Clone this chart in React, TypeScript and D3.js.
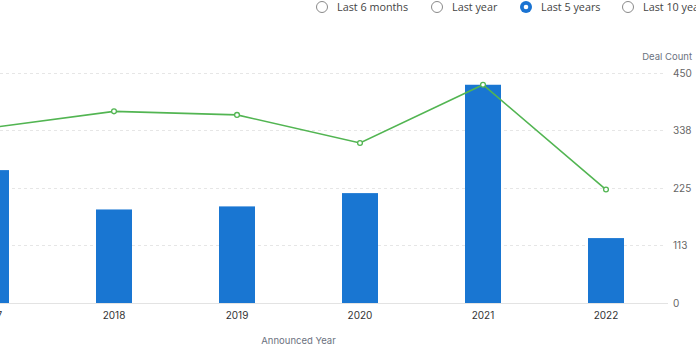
import React, { useRef, useEffect } from "react";
import * as d3 from "d3";

const years = ["2017", "2018", "2019", "2020", "2021", "2022"];
const barValues = [260, 183, 189, 215, 427, 127];
const dealCounts = [343, 375, 368, 313, 427, 222];
const tickValues = [0, 113, 225, 338, 450];
const periods = ["Last 6 months", "Last year", "Last 5 years", "Last 10 years"];
const selectedPeriod = "Last 5 years";

const W = 696;
const H = 351;

const App = () => {
	const svgRef = useRef<SVGSVGElement>(null);

	useEffect(() => {
		const svg = d3.select(svgRef.current);
		svg.selectAll("*").remove();

		const top = 73, bottom = 303, left = -70.5, right = 667.5;

		const x = d3.scaleBand().domain(years).range([left, right]);
		const y = d3.scaleLinear().domain([0, 450]).range([bottom, top]);
		const barW = 36;

		// radio buttons
		const radioX = [322, 437, 526, 628];
		const radios = svg.append("g");
		periods.forEach((p, i) => {
			const sel = p === selectedPeriod;
			if (sel) {
				radios.append("circle")
					.attr("cx", radioX[i]).attr("cy", 7).attr("r", 6)
					.attr("fill", "#1a73d2");
				radios.append("circle")
					.attr("cx", radioX[i]).attr("cy", 7).attr("r", 2.3)
					.attr("fill", "#fff");
			} else {
				radios.append("circle")
					.attr("cx", radioX[i]).attr("cy", 7).attr("r", 5.5)
					.attr("fill", "#fff")
					.attr("stroke", "#8a8a8a")
					.attr("stroke-width", 1);
			}
			radios.append("text")
				.attr("x", radioX[i] + 15).attr("y", 11.2)
				.attr("font-family", "Open Sans, sans-serif")
				.attr("font-size", 10.8)
				.attr("fill", "#444")
				.text(p);
		});

		// gridlines
		svg.append("g")
			.selectAll("line")
			.data(tickValues.filter(d => d > 0))
			.enter()
			.append("line")
			.attr("x1", 0).attr("x2", 666)
			.attr("y1", d => Math.round(y(d)) + 0.5)
			.attr("y2", d => Math.round(y(d)) + 0.5)
			.attr("stroke", "#e6e6e6")
			.attr("stroke-dasharray", "3,3");

		// bars
		svg.append("g")
			.selectAll("rect")
			.data(years)
			.enter()
			.append("rect")
			.attr("x", d => (x(d) as number) + x.bandwidth() / 2 - barW / 2)
			.attr("y", (d, i) => y(barValues[i]))
			.attr("width", barW)
			.attr("height", (d, i) => bottom - y(barValues[i]))
			.attr("fill", "#1976d2");

		// baseline
		svg.append("line")
			.attr("x1", 0).attr("x2", 668)
			.attr("y1", bottom + 0.5).attr("y2", bottom + 0.5)
			.attr("stroke", "#e3e3e3");

		// line
		const line = d3.line<number>()
			.x((d, i) => (x(years[i]) as number) + x.bandwidth() / 2)
			.y(d => y(d));
		svg.append("path")
			.datum(dealCounts)
			.attr("d", line)
			.attr("fill", "none")
			.attr("stroke", "#52b552")
			.attr("stroke-width", 1.6);

		svg.append("g")
			.selectAll("circle")
			.data(dealCounts)
			.enter()
			.append("circle")
			.attr("cx", (d, i) => (x(years[i]) as number) + x.bandwidth() / 2)
			.attr("cy", d => y(d))
			.attr("r", 2.4)
			.attr("fill", "#fff")
			.attr("stroke", "#52b552")
			.attr("stroke-width", 1.3);

		// right axis labels
		svg.append("g")
			.selectAll("text")
			.data(tickValues)
			.enter()
			.append("text")
			.attr("x", 673)
			.attr("y", d => y(d) + 4)
			.attr("font-family", "Inter, sans-serif")
			.attr("font-size", 10)
			.attr("fill", "#666")
			.text(d => d);

		svg.append("text")
			.attr("x", 692).attr("y", 60)
			.attr("text-anchor", "end")
			.attr("font-family", "Inter, sans-serif")
			.attr("font-size", 9.5)
			.attr("fill", "#6b7280")
			.text("Deal Count");

		// x axis labels
		svg.append("g")
			.selectAll("text")
			.data(years)
			.enter()
			.append("text")
			.attr("x", d => (x(d) as number) + x.bandwidth() / 2)
			.attr("y", 319)
			.attr("text-anchor", "middle")
			.attr("font-family", "Inter, sans-serif")
			.attr("font-size", 10)
			.attr("fill", "#333")
			.text(d => d);

		svg.append("text")
			.attr("x", (left + right) / 2)
			.attr("y", 344)
			.attr("text-anchor", "middle")
			.attr("font-family", "Inter, sans-serif")
			.attr("font-size", 9.5)
			.attr("fill", "#6b7280")
			.text("Announced Year");
	}, []);

	return (
		<div>
			<svg ref={svgRef} width={W} height={H}
				style={{ position: "absolute", left: 0, top: 0, background: "#fff" }}>
			</svg>
		</div>
	);
};

export default App;
